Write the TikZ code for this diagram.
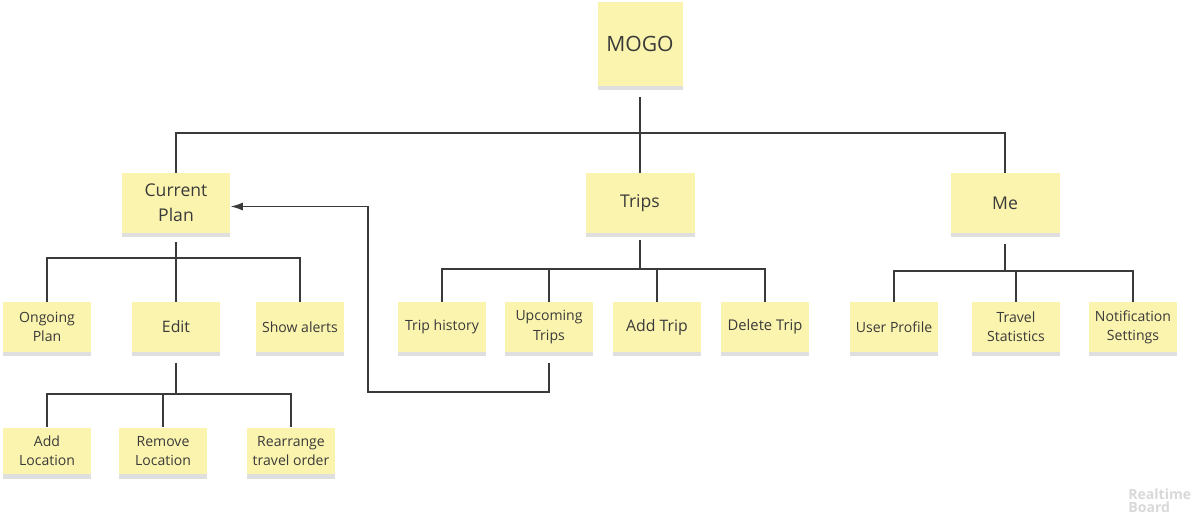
\documentclass[tikz,border=0pt]{standalone}
\usepackage{fontspec}
\setmainfont{Open Sans}
\usepackage{xcolor}
\usetikzlibrary{arrows.meta,positioning,shadows}
\definecolor{sticky}{HTML}{FBF4AE}
\definecolor{inkgray}{HTML}{3A3A3A}

\begin{document}
\begin{tikzpicture}[
        x=0.02cm, y=-0.02cm,
        text=inkgray,
        >=Latex,
        note/.style={fill=sticky, align=center, inner sep=2pt,
            drop shadow={shadow xshift=0pt, shadow yshift=-2.5pt, opacity=0.25}},
        rootnote/.style={note, minimum width=1.7cm, minimum height=1.68cm,
            font=\fontsize{12}{14}\selectfont},
        topic/.style={note, minimum width=2.18cm, minimum height=1.2cm,
            font=\fontsize{10}{14}\selectfont},
        leaf/.style={note, minimum width=1.76cm, minimum height=1cm,
            font=\fontsize{8}{11}\selectfont},
        subleaf/.style={leaf, minimum height=0.94cm},
        link/.style={draw=inkgray, line width=0.6pt},
        jump/.style={link, -{Latex[length=2.4mm, width=1.6mm]}}
    ]
        \useasboundingbox (0,0) rectangle (1192,516);
        \fill[white] (0,0) rectangle (1192,516);

        % Root and the three tabs.
        \node[rootnote] (mogo) at (640,44) {MOGO};
        \node[topic] (cur) at (176,203) {Current\\Plan};
        \node[topic] (trips) at (640,203) {Trips};
        \node[topic] (me) at (1005,203) {Me};

        % Second level.
        \node[leaf] (ongoing) at (47,327) {Ongoing\\Plan};
        \node[leaf, font=\fontsize{9}{11}\selectfont] (edit) at (176,327) {Edit};
        \node[leaf] (alerts) at (300,327) {Show alerts};
        \node[leaf] (hist) at (442,327) {Trip history};
        \node[leaf] (upc) at (549,327) {Upcoming\\Trips};
        \node[leaf, font=\fontsize{9}{11}\selectfont] (addtrip) at (657,327) {Add Trip};
        \node[leaf, font=\fontsize{8.4}{11}\selectfont] (deltrip) at (765,327) {Delete Trip};
        \node[leaf] (profile) at (894,327) {User Profile};
        \node[leaf] (stats) at (1016,327) {Travel\\Statistics};
        \node[leaf] (notif) at (1133,327) {Notification\\Settings};

        % Third level, under Edit.
        \node[subleaf] (addloc) at (47,451) {Add\\Location};
        \node[subleaf] (remloc) at (163,451) {Remove\\Location};
        \node[subleaf] (rearr) at (291,451) {Rearrange\\travel order};

        % Tree connectors.
        \coordinate (jroot) at (640,133);
        \coordinate (jcur) at (176,258);
        \coordinate (jtrips) at (640,269);
        \coordinate (jme) at (1005,271);
        \coordinate (jedit) at (176,394);

        \draw[link, shorten <=6pt] (mogo.south) -- (jroot);
        \draw[link] (cur.north) |- (jroot) -| (me.north);
        \draw[link] (trips.north) -- (jroot);

        \draw[link, shorten <=5pt] (cur.south) -- (edit.north);
        \draw[link] (ongoing.north) |- (jcur) -| (alerts.north);

        \draw[link, shorten <=4pt] (trips.south) -- (jtrips);
        \draw[link] (hist.north) |- (jtrips) -| (deltrip.north);
        \draw[link] (upc.north) |- (jtrips);
        \draw[link] (addtrip.north) |- (jtrips);

        \draw[link, shorten <=6pt] (me.south) -- (jme);
        \draw[link] (profile.north) |- (jme) -| (notif.north);
        \draw[link] (stats.north) |- (jme);

        \draw[link, shorten <=6pt] (edit.south) -- (jedit);
        \draw[link] (addloc.north) |- (jedit) -| (rearr.north);
        \draw[link] (remloc.north) |- (jedit);

        % Upcoming trips lead back to the current plan.
        \coordinate (bend) at (368,392);
        \draw[jump, shorten <=6pt] (upc.south) |- (bend) |- ([yshift=-2pt]cur.east);

        \node[font=\bfseries\fontsize{8}{7.5}\selectfont, text=gray!30,
            align=left, anchor=north west, inner sep=0pt] (mark) at (1128,488)
            {Realtime\\Board};
    \end{tikzpicture}
\end{document}
